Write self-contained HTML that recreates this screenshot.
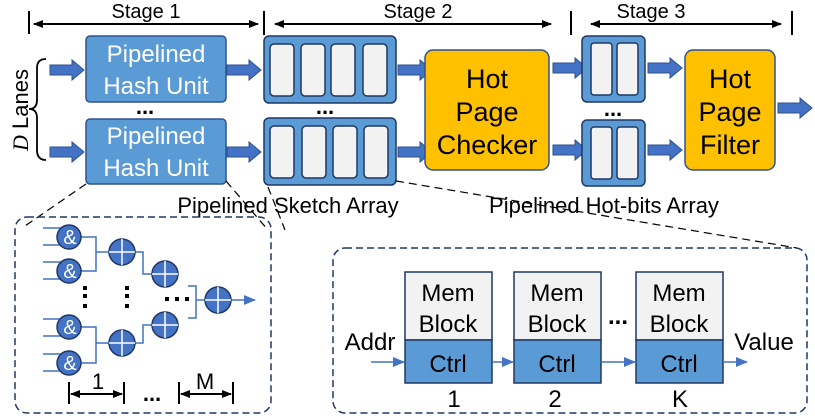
<!DOCTYPE html>
<html><head><meta charset="utf-8"><style>
html,body{margin:0;padding:0;background:#fff}
svg{display:block}
text{font-family:"Liberation Sans",sans-serif}
</style></head><body>
<svg width="815" height="420" viewBox="0 0 815 420" xmlns="http://www.w3.org/2000/svg">
<defs>
<marker id="ah" markerWidth="10" markerHeight="10" refX="9" refY="5" orient="auto" markerUnits="userSpaceOnUse"><path d="M0,1 L10,5 L0,9 Z" fill="#000"/></marker>
<marker id="ahs" markerWidth="10" markerHeight="10" refX="9" refY="5" orient="auto-start-reverse" markerUnits="userSpaceOnUse"><path d="M0,1 L10,5 L0,9 Z" fill="#000"/></marker>
<marker id="bh" markerWidth="12" markerHeight="12" refX="11" refY="6" orient="auto" markerUnits="userSpaceOnUse"><path d="M0,1 L12,6 L0,11 Z" fill="#4472C4"/></marker>
<g id="barr"><path d="M0,-5 L22,-5 L22,-10 L34,0 L22,10 L22,5 L0,5 Z" fill="#4472C4" stroke="#2F528F" stroke-width="1"/></g>
</defs>

<g stroke="#000" stroke-width="2">
<line x1="29" y1="11" x2="29" y2="34"/><line x1="264" y1="11" x2="264" y2="35"/>
<line x1="571" y1="11" x2="571" y2="35"/><line x1="792" y1="11" x2="792" y2="35"/>
<line x1="34" y1="24" x2="258" y2="24" marker-start="url(#ahs)" marker-end="url(#ah)"/>
<line x1="275" y1="24" x2="551" y2="24" marker-start="url(#ahs)" marker-end="url(#ah)"/>
<line x1="591" y1="24" x2="781" y2="24" marker-start="url(#ahs)" marker-end="url(#ah)"/>
</g>
<g font-size="20" text-anchor="middle">
<text x="146" y="18">Stage 1</text><text x="418" y="18">Stage 2</text><text x="651" y="18">Stage 3</text>
</g>

<text transform="translate(28,110) rotate(-90)" font-size="22" text-anchor="middle"><tspan font-family="Liberation Serif" font-style="italic">D</tspan> Lanes</text>
<path d="M46,59 Q37,59 37,68 L37,100 Q37,109 29,109 Q37,109 37,118 L37,150 Q37,160 46,160" fill="none" stroke="#000" stroke-width="1.8"/>

<use href="#barr" x="50" y="70"/><use href="#barr" x="50" y="152"/>
<use href="#barr" x="227" y="70"/><use href="#barr" x="227" y="152"/>
<use href="#barr" x="398" y="70"/><use href="#barr" x="398" y="152"/>
<use href="#barr" x="553" y="68"/><use href="#barr" x="553" y="150"/>
<use href="#barr" x="648" y="68"/><use href="#barr" x="648" y="150"/>
<use href="#barr" x="778" y="108"/>

<g fill="#5B9BD5" stroke="#2F528F" stroke-width="1.5">
<rect x="86" y="36" width="140" height="66" rx="4"/>
<rect x="86" y="119" width="140" height="65" rx="4"/>
</g>
<g fill="#fff" font-size="24" text-anchor="middle">
<text x="156" y="62">Pipelined</text><text x="156" y="94">Hash Unit</text>
<text x="156" y="144">Pipelined</text><text x="156" y="176">Hash Unit</text>
</g>

<g stroke="#203864" stroke-width="1.5">
<rect x="264" y="36" width="132" height="67" rx="5" fill="#5B9BD5"/>
<rect x="264" y="118" width="132" height="67" rx="5" fill="#5B9BD5"/>
<g fill="#F2F2F2">
<rect x="270" y="44" width="24" height="52" rx="4"/><rect x="301" y="44" width="24" height="52" rx="4"/><rect x="331" y="44" width="24" height="52" rx="4"/><rect x="363" y="44" width="24" height="52" rx="4"/>
<rect x="270" y="126" width="24" height="52" rx="4"/><rect x="302" y="126" width="24" height="52" rx="4"/><rect x="333" y="126" width="24" height="52" rx="4"/><rect x="364" y="126" width="24" height="52" rx="4"/>
</g>
<rect x="582" y="36" width="63" height="66" rx="5" fill="#5B9BD5"/>
<rect x="582" y="120" width="63" height="66" rx="5" fill="#5B9BD5"/>
<g fill="#F2F2F2">
<rect x="591" y="43" width="21" height="52" rx="3"/><rect x="617" y="43" width="21" height="52" rx="3"/>
<rect x="591" y="127" width="21" height="52" rx="3"/><rect x="617" y="127" width="21" height="52" rx="3"/>
</g>
</g>

<g fill="#FFC000" stroke="#2F528F" stroke-width="1.5">
<rect x="425" y="50" width="124" height="120" rx="8"/>
<rect x="685" y="50" width="90" height="120" rx="8"/>
</g>
<g font-size="27" text-anchor="middle" fill="#000">
<text x="487" y="88">Hot</text><text x="487" y="121">Page</text><text x="487" y="154">Checker</text>
<text x="730" y="88">Hot</text><text x="730" y="121">Page</text><text x="730" y="154">Filter</text>
</g>

<g font-size="22" font-weight="bold" text-anchor="middle">
<text x="145" y="114">...</text><text x="325" y="114">...</text><text x="613" y="116">...</text>
</g>

<g stroke="#000" stroke-width="1.2" stroke-dasharray="8,5" fill="none">
<line x1="86" y1="184" x2="22" y2="228"/>
<line x1="226" y1="181" x2="268" y2="230"/>
<line x1="268" y1="187" x2="285" y2="230"/>
<line x1="396" y1="181" x2="797" y2="248"/>
</g>

<g font-size="22" text-anchor="middle">
<text x="288" y="213">Pipelined Sketch Array</text>
<text x="604" y="213">Pipelined Hot-bits Array</text>
</g>

<rect x="15" y="217" width="256" height="196" rx="12" fill="none" stroke="#203864" stroke-width="1.5" stroke-dasharray="7,4"/>
<g stroke="#4472C4" stroke-width="1.5" fill="none">
<path d="M43,228 H69 M43,245 H69 M43,262 H69 M43,279 H69"/>
<path d="M43,319 H69 M43,336 H69 M43,354 H69 M43,371 H69"/>
<path d="M80,237 H96 V271 H80 M96,252 H122"/>
<path d="M80,327 H96 V363 H80 M96,343 H122"/>
<path d="M122,252 H143 V274 H165"/>
<path d="M122,343 H143 V325 H165"/>
<path d="M188,286 H196 V318 H188 M196,300 H218"/>
<line x1="218" y1="300" x2="255" y2="300" marker-end="url(#bh)"/>
</g>
<g stroke="#203864" stroke-width="1.5" fill="#4472C4">
<circle cx="69" cy="237" r="12"/><circle cx="69" cy="271" r="12"/><circle cx="69" cy="327" r="12"/><circle cx="69" cy="363" r="12"/>
<circle cx="122" cy="252" r="13"/><circle cx="122" cy="343" r="13"/>
<circle cx="165" cy="274" r="13"/><circle cx="165" cy="325" r="13"/>
<circle cx="218" cy="300" r="13"/>
</g>
<g stroke="#fff" stroke-width="1.5">
<path d="M109,252 H135 M122,239 V265 M109,343 H135 M122,330 V356 M152,274 H178 M165,261 V287 M152,325 H178 M165,312 V338 M205,300 H231 M218,287 V313"/>
</g>
<g fill="#fff" font-size="20" text-anchor="middle">
<text x="70" y="244">&amp;</text><text x="70" y="278">&amp;</text><text x="70" y="334">&amp;</text><text x="70" y="370">&amp;</text>
</g>
<g fill="#000">
<rect x="83" y="286" width="4" height="4"/><rect x="83" y="294" width="4" height="4"/><rect x="83" y="304" width="4" height="4"/>
<rect x="125" y="286" width="4" height="4"/><rect x="125" y="294" width="4" height="4"/><rect x="125" y="304" width="4" height="4"/>
<rect x="165" y="297" width="4" height="4"/><rect x="175" y="297" width="4" height="4"/><rect x="185" y="297" width="4" height="4"/>
</g>
<g stroke="#000" stroke-width="2">
<line x1="69" y1="382" x2="69" y2="404"/><line x1="124" y1="382" x2="124" y2="404"/>
<line x1="179" y1="382" x2="179" y2="404"/><line x1="233" y1="382" x2="233" y2="404"/>
<line x1="71" y1="394" x2="122" y2="394" marker-start="url(#ahs)" marker-end="url(#ah)"/>
<line x1="181" y1="394" x2="231" y2="394" marker-start="url(#ahs)" marker-end="url(#ah)"/>
</g>
<g font-size="22" text-anchor="middle">
<text x="98" y="389">1</text><text x="205" y="389">M</text><text x="152" y="401" font-weight="bold">...</text>
</g>

<rect x="333" y="248" width="474" height="165" rx="12" fill="none" stroke="#203864" stroke-width="1.5" stroke-dasharray="7,4"/>
<g stroke="#203864" stroke-width="1.5">
<rect x="405" y="272" width="87" height="68" fill="#F2F2F2"/><rect x="405" y="340" width="87" height="43" fill="#5B9BD5"/>
<rect x="514" y="272" width="87" height="68" fill="#F2F2F2"/><rect x="514" y="340" width="87" height="43" fill="#5B9BD5"/>
<rect x="636" y="272" width="87" height="68" fill="#F2F2F2"/><rect x="636" y="340" width="87" height="43" fill="#5B9BD5"/>
</g>
<g stroke="#4472C4" stroke-width="1.5">
<line x1="371" y1="362" x2="404" y2="362" marker-end="url(#bh)"/>
<line x1="492" y1="362" x2="513" y2="362" marker-end="url(#bh)"/>
<line x1="601" y1="362" x2="635" y2="362" marker-end="url(#bh)"/>
<line x1="723" y1="362" x2="747" y2="362" marker-end="url(#bh)"/>
</g>
<g font-size="24" text-anchor="middle">
<text x="448" y="301">Mem</text><text x="448" y="332">Block</text><text x="448" y="372">Ctrl</text>
<text x="557" y="301">Mem</text><text x="557" y="332">Block</text><text x="557" y="372">Ctrl</text>
<text x="679" y="301">Mem</text><text x="679" y="332">Block</text><text x="679" y="372">Ctrl</text>
<text x="370" y="350">Addr</text><text x="764" y="350">Value</text>
<text x="454" y="407">1</text><text x="555" y="407">2</text><text x="680" y="407">K</text>
<text x="618" y="324" font-weight="bold">...</text>
</g>
</svg>
</body></html>
